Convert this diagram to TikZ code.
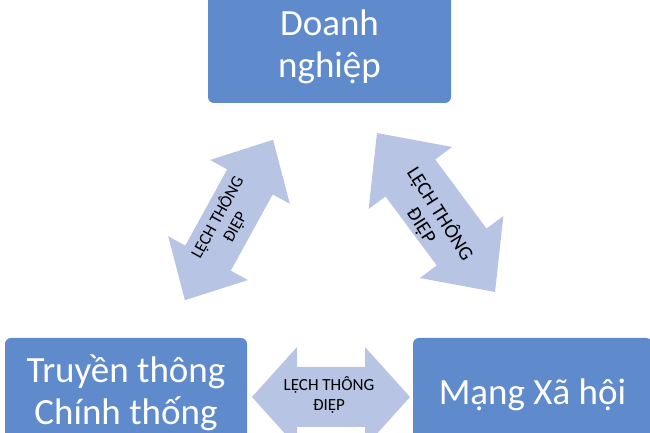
\documentclass[tikz,border=0pt]{standalone}
\usepackage{fontspec}
\setmainfont{Carlito}
\definecolor{boxblue}{HTML}{5F8ACB}
\definecolor{arrowfill}{HTML}{B8C4E3}
% #1 centre, #2 angle, #3 half length, #4 head length, #5 head half width, #6 shaft half width
\newcommand{\dblarrowshape}[6]{%
  \begin{scope}[shift={#1}, rotate=#2]
    \fill[arrowfill] (-#3,0) -- (-#3+#4,#5) -- (-#3+#4,#6) -- (#3-#4,#6) -- (#3-#4,#5)
      -- (#3,0) -- (#3-#4,-#5) -- (#3-#4,-#6) -- (-#3+#4,-#6) -- (-#3+#4,-#5) -- cycle;
  \end{scope}}
\begin{document}
\begin{tikzpicture}[x=1pt,y=1pt,
  box/.style={fill=boxblue, draw=none, rounded corners=6pt, inner sep=0pt,
    text=white, font=\fontsize{37}{42}\selectfont, align=center},
  arrowtext/.style={font=\fontsize{17}{20}\selectfont, align=center, text=black, inner sep=0pt}]
\useasboundingbox (0,0) rectangle (650,433);
% boxes
\node[box, minimum width=243pt, minimum height=113pt] (doanhnghiep) at (329.5,386.5) {Doanh\\nghiệp};
\node[box, minimum width=242pt, minimum height=110pt] (truyenthong) at (126,40) {Truyền thông\\Chính thống};
\node[box, minimum width=239pt, minimum height=114pt] (mangxahoi) at (532.5,38) {Mạng Xã hội};
% double arrows
\dblarrowshape{(331,36)}{0}{79}{45}{50}{30}
\dblarrowshape{(229,213)}{61.2}{91.5}{48}{45.5}{26}
\dblarrowshape{(436,220.5)}{-53.4}{99}{56}{52}{31}
% arrow labels
\node[arrowtext] (lblbottom) at (329,38) {LỆCH THÔNG\\ĐIỆP};
\node[arrowtext, rotate=61] (lblleft) at (226,211) {LỆCH THÔNG\\ĐIỆP};
\node[arrowtext, font=\fontsize{20}{22}\selectfont, rotate=-57.7] (lblright) at (431,213.5) {LỆCH THÔNG\\ĐIỆP};
\end{tikzpicture}
\end{document}
